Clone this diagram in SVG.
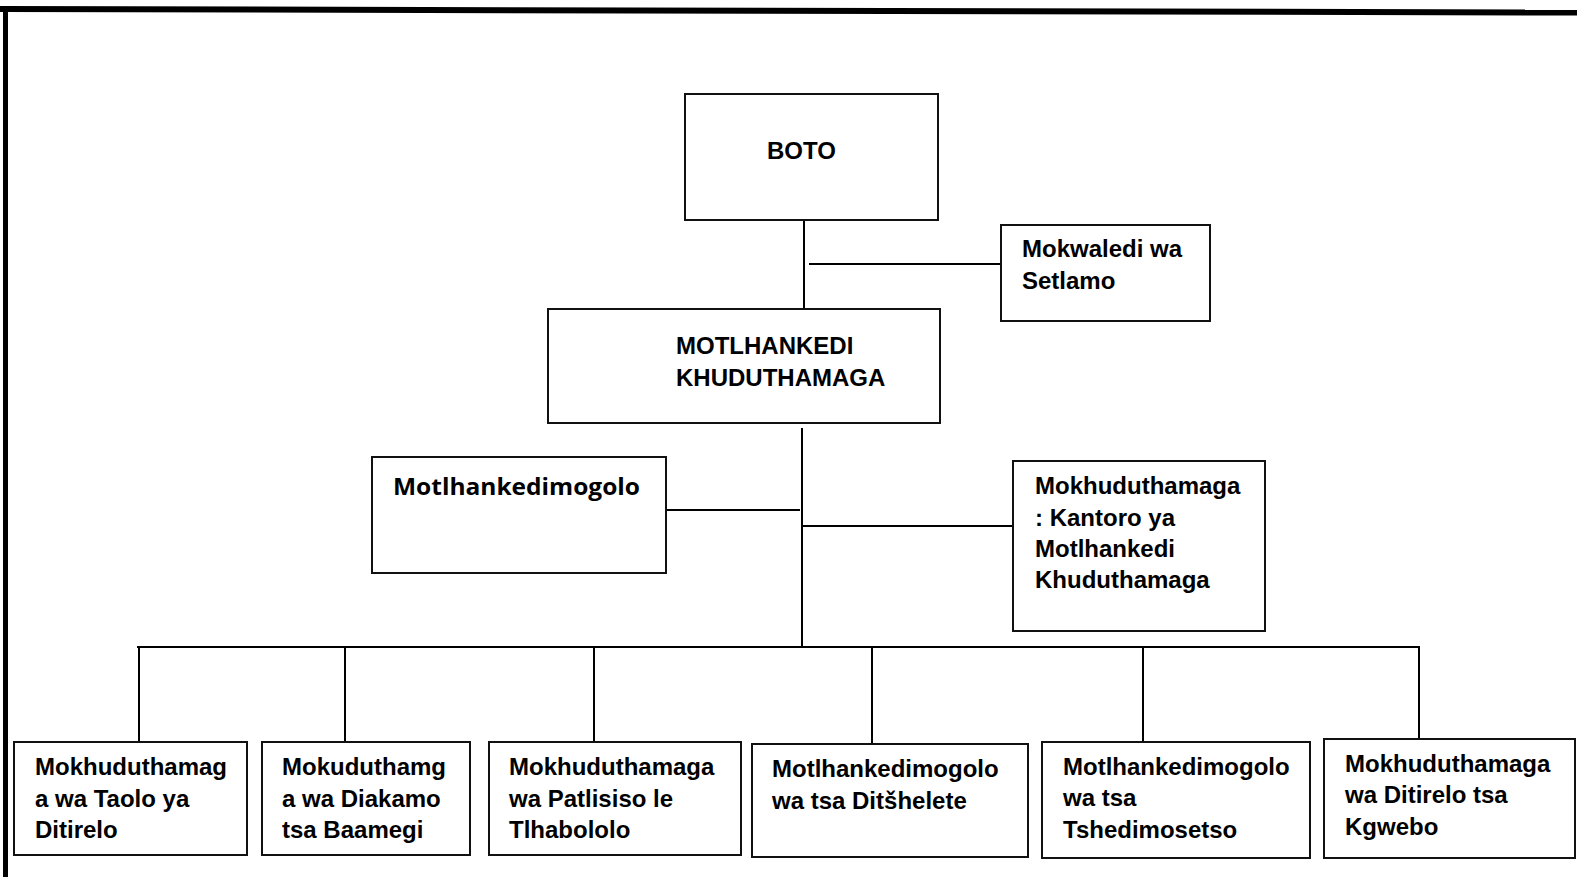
<svg xmlns="http://www.w3.org/2000/svg" width="1577" height="877" viewBox="0 0 1577 877">
<style>
.box{fill:#fff;stroke:#111;stroke-width:2}
.t{font-family:"Liberation Sans",Arial,sans-serif;font-weight:bold;font-size:24px;fill:#000}
.t2{font-family:"Open Sans","Noto Sans",sans-serif;font-weight:700;font-size:24px;fill:#000}
.c{stroke:#000;stroke-width:2;fill:none}
</style>
<rect width="1577" height="877" fill="#fff"/>
<g id="frame">
<polygon points="0,6 1577,9.5 1577,15.5 0,12" fill="#000"/>
<rect x="3" y="6" width="5" height="871" fill="#000"/>
</g>
<g id="connectors">
<line class="c" x1="804" y1="220" x2="804" y2="309"/>
<line class="c" x1="809" y1="264" x2="1001" y2="264"/>
<line class="c" x1="802" y1="428" x2="802" y2="647"/>
<line class="c" x1="666" y1="510" x2="800" y2="510"/>
<line class="c" x1="803" y1="526" x2="1013" y2="526"/>
<line class="c" x1="137" y1="647" x2="1420" y2="647"/>
<line class="c" x1="139" y1="647" x2="139" y2="742"/>
<line class="c" x1="345" y1="647" x2="345" y2="742"/>
<line class="c" x1="594" y1="647" x2="594" y2="742"/>
<line class="c" x1="872" y1="647" x2="872" y2="744"/>
<line class="c" x1="1143" y1="647" x2="1143" y2="742"/>
<line class="c" x1="1419" y1="647" x2="1419" y2="739"/>
</g>
<g id="boto">
<rect class="box" x="685" y="94" width="253" height="126"/>
<text class="t" x="767" y="159">BOTO</text>
</g>
<g id="setlamo">
<rect class="box" x="1001" y="225" width="209" height="96"/>
<text class="t" x="1022" y="257">Mokwaledi wa</text>
<text class="t" x="1022" y="289">Setlamo</text>
</g>
<g id="motlhankedi">
<rect class="box" x="548" y="309" width="392" height="114"/>
<text class="t" x="676" y="354">MOTLHANKEDI</text>
<text class="t" x="676" y="386">KHUDUTHAMAGA</text>
</g>
<g id="motlhankedimogolo">
<rect class="box" x="372" y="457" width="294" height="116"/>
<text class="t2" x="393" y="495" textLength="247" lengthAdjust="spacingAndGlyphs">Motlhankedimogolo</text>
</g>
<g id="kantoro">
<rect class="box" x="1013" y="461" width="252" height="170"/>
<text class="t" x="1035" y="494">Mokhuduthamaga</text>
<text class="t" x="1035" y="526">: Kantoro ya</text>
<text class="t" x="1035" y="557">Motlhankedi</text>
<text class="t" x="1035" y="588">Khuduthamaga</text>
</g>
<g id="taolo">
<rect class="box" x="14" y="742" width="233" height="113"/>
<text class="t" x="35" y="775">Mokhuduthamag</text>
<text class="t" x="35" y="807">a wa Taolo ya</text>
<text class="t" x="35" y="838">Ditirelo</text>
</g>
<g id="diakamo">
<rect class="box" x="262" y="742" width="208" height="113"/>
<text class="t" x="282" y="775">Mokuduthamg</text>
<text class="t" x="282" y="807">a wa Diakamo</text>
<text class="t" x="282" y="838">tsa Baamegi</text>
</g>
<g id="patlisiso">
<rect class="box" x="489" y="742" width="252" height="113"/>
<text class="t" x="509" y="775">Mokhuduthamaga</text>
<text class="t" x="509" y="807">wa Patlisiso le</text>
<text class="t" x="509" y="838">Tlhabololo</text>
</g>
<g id="ditshelete">
<rect class="box" x="752" y="744" width="276" height="113"/>
<text class="t" x="772" y="777">Motlhankedimogolo</text>
<text class="t" x="772" y="809">wa tsa Ditšhelete</text>
</g>
<g id="tshedimosetso">
<rect class="box" x="1042" y="742" width="268" height="116"/>
<text class="t" x="1063" y="775">Motlhankedimogolo</text>
<text class="t" x="1063" y="806">wa tsa</text>
<text class="t" x="1063" y="838">Tshedimosetso</text>
</g>
<g id="kgwebo">
<rect class="box" x="1324" y="739" width="251" height="119"/>
<text class="t" x="1345" y="772">Mokhuduthamaga</text>
<text class="t" x="1345" y="803">wa Ditirelo tsa</text>
<text class="t" x="1345" y="835">Kgwebo</text>
</g>
</svg>
